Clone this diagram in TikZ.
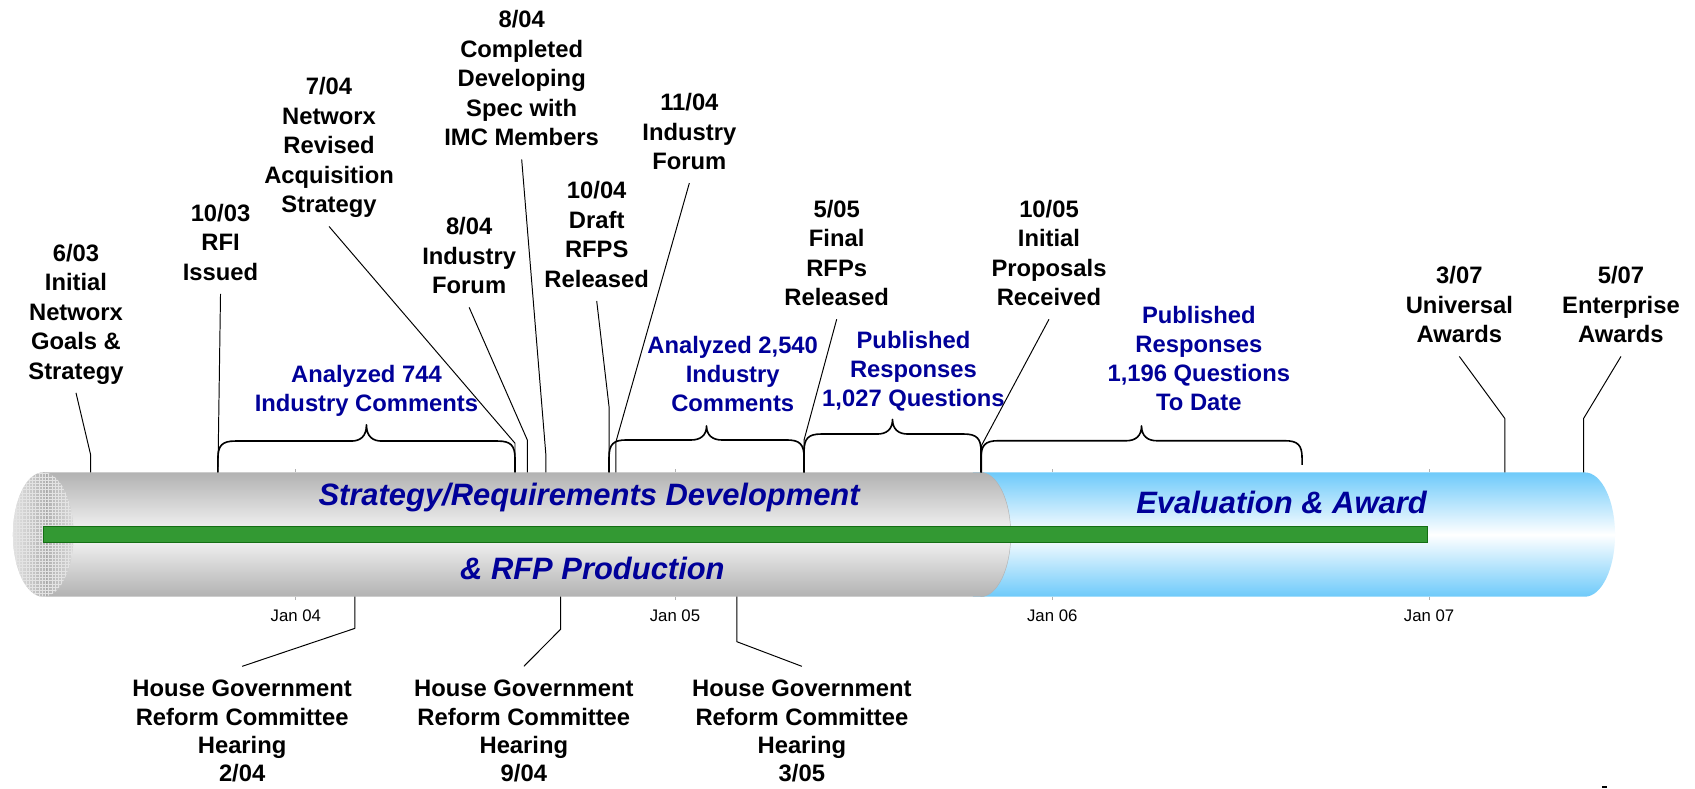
\documentclass[tikz,border=0pt]{standalone}
\usepackage{fontspec}
\setmainfont{Liberation Sans}
\usetikzlibrary{calc,patterns}
\definecolor{lblue}{RGB}{0,0,153}
\definecolor{barfill}{RGB}{51,153,51}
\definecolor{bardraw}{RGB}{20,110,20}
\definecolor{tubegrey}{RGB}{178,178,178}
\definecolor{tubelight}{RGB}{247,247,247}
\definecolor{tubeblue}{RGB}{110,202,250}
\newcommand{\mybrace}[6]{%
  \pgfmathsetmacro{\bxm}{(#1+#2)/2}%
  \draw[bracepath] (#1,#5) -- (#1,#3+16) .. controls (#1,#3+4) and (#1+4,#3) .. (#1+16,#3)
    -- (\bxm-14,#3) .. controls (\bxm-6,#3) and (\bxm,#3-4) .. (\bxm,#4)
    .. controls (\bxm,#3-4) and (\bxm+6,#3) .. (\bxm+14,#3)
    -- (#2-16,#3) .. controls (#2-4,#3) and (#2,#3+4) .. (#2,#3+16) -- (#2,#6);}
\begin{document}
\begin{tikzpicture}[x=1pt,y=-1pt,
  evt/.style={anchor=north, inner sep=0pt, align=center,
    font=\fontsize{22}{27.3}\selectfont\bfseries,
    execute at begin node={\rule{0pt}{15.8pt}},
    execute at end node={\rule[-4.6pt]{0pt}{4.6pt}}},
  bluelab/.style={evt, text=lblue, font=\fontsize{22}{26.8}\selectfont\bfseries},
  hear/.style={evt, font=\fontsize{22}{26.3}\selectfont\bfseries},
  callout/.style={draw=black, line width=0.9pt, line join=round},
  bracepath/.style={draw=black, line width=1.5pt, line join=round},
  tubetext/.style={anchor=base, inner sep=0pt, text=lblue,
    font=\fontsize{28.6}{34}\selectfont\bfseries\itshape},
  janlab/.style={anchor=base, inner sep=0pt, font=\fontsize{15.5}{18}\selectfont},
  tick/.style={draw=gray!60, line width=0.7pt}]
\useasboundingbox[fill=white] (0,0) rectangle (1568,729);

% ---- tube: blue part
\path[top color=tubeblue, bottom color=tubeblue, middle color=white]
  (900,437) -- (1466,437) .. controls (1481.5,437) and (1494,462.7) .. (1494,494.5)
  .. controls (1494,526.3) and (1481.5,552) .. (1466,552) -- (900,552) -- cycle;
% ---- tube: grey part
\path[top color=tubegrey, bottom color=tubegrey, middle color=tubelight]
  (40,437) -- (907,437) .. controls (922.5,437) and (935,462.7) .. (935,494.5)
  .. controls (935,526.3) and (922.5,552) .. (907,552) -- (40,552) -- cycle;
\draw[gray!60, line width=0.4pt] (907,437) .. controls (922.5,437) and (935,462.7) .. (935,494.5)
  .. controls (935,526.3) and (922.5,552) .. (907,552);
% ---- left end face (textured)
\begin{scope}
  \clip (40,494.5) ellipse [x radius=28, y radius=57.5];
  \path[top color=gray!45, middle color=white, bottom color=gray!45] (11,437) rectangle (69,552);
  \path[left color=white, right color=gray!75, fill opacity=0.5] (11,437) rectangle (43,552);
  \path[left color=gray!75, right color=gray!15, fill opacity=0.5] (43,437) rectangle (69,552);
  \path[pattern=grid, pattern color=gray!22] (11,437) rectangle (69,552);
\end{scope}
% ---- green bar
\path[fill=barfill, draw=bardraw, line width=0.8pt] (40,487) rectangle (1320,502);

% ---- tube texts
\node[tubetext] (t1) at (545,468) {Strategy/Requirements Development};
\node[tubetext] (t2) at (548,536.5) {\& RFP Production};
\node[tubetext] (t3) at (1185.5,475) {Evaluation \& Award};

% ---- axis ticks and labels
\foreach \x in {273.7,624.4,973.4,1322}{
  \draw[tick] (\x,434) -- (\x,437);
  \draw[tick] (\x,552) -- (\x,555);
}
\node[janlab] (j4) at (273.7,574.5) {Jan 04};
\node[janlab] (j5) at (624.4,574.5) {Jan 05};
\node[janlab] (j6) at (973.4,574.5) {Jan 06};
\node[janlab] (j7) at (1322,574.5) {Jan 07};

% ---- braces
\mybrace{201.6}{476.4}{408}{393}{437}{437}
\mybrace{563.4}{743.8}{407}{394}{437}{437}
\mybrace{743.8}{907.5}{401.5}{388}{437}{437}
\mybrace{907.5}{1204.5}{407.7}{394}{437}{430}

% ---- top event labels
\node[evt] (L603) at (70.3,225.5) {6/03\\Initial\\Networx\\Goals \&\\Strategy};
\node[evt] (L1003) at (204,188.6) {10/03\\RFI\\Issued};
\node[evt] (L704) at (304.4,71.6) {7/04\\Networx\\Revised\\Acquisition\\Strategy};
\node[evt] (L804c) at (482.6,9.7) {8/04\\Completed\\Developing\\Spec with\\IMC Members};
\node[evt] (L804f) at (434,201.1) {8/04\\Industry\\Forum};
\node[evt] (L1004) at (552,167.9) {10/04\\Draft\\RFPS\\Released};
\node[evt] (L1104) at (637.7,86.1) {11/04\\Industry\\Forum};
\node[evt] (L505) at (774,184.8) {5/05\\Final\\RFPs\\Released};
\node[evt] (L1005) at (970.4,184.8) {10/05\\Initial\\Proposals\\Received};
\node[evt] (L307) at (1350,246.5) {3/07\\Universal\\Awards};
\node[evt] (L507) at (1499.5,246.5) {5/07\\Enterprise\\Awards};

% ---- blue labels
\node[bluelab] (B744) at (339,338.1) {Analyzed 744\\Industry Comments};
\node[bluelab] (B2540) at (677.8,311.1) {Analyzed 2,540\\Industry\\Comments};
\node[bluelab] (B1027) at (845,306) {Published\\Responses\\1,027 Questions};
\node[bluelab] (B1196) at (1109,283.5) {Published\\Responses\\1,196 Questions\\To Date};

% ---- bottom labels
\node[hear] (H1) at (224,628.9) {House Government\\Reform Committee\\Hearing\\2/04};
\node[hear] (H2) at (484.6,628.9) {House Government\\Reform Committee\\Hearing\\9/04};
\node[hear] (H3) at (741.8,628.9) {House Government\\Reform Committee\\Hearing\\3/05};

% ---- callout coordinates
\coordinate (k603) at (83.9,421);   \coordinate (e603) at (83.9,437);
\coordinate (e1003) at (201.6,437);
\coordinate (k704) at (476.4,410);  \coordinate (e704) at (476.4,437);
\coordinate (k804c) at (505,421);   \coordinate (e804c) at (505,437);
\coordinate (k804f) at (487.8,407); \coordinate (e804f) at (487.8,437);
\coordinate (k1004) at (563.4,376.2); \coordinate (e1004) at (563.4,437);
\coordinate (k1104) at (569.8,408.6); \coordinate (e1104) at (569.8,437);
\coordinate (k505) at (743.8,407);  \coordinate (e505) at (743.8,437);
\coordinate (k1005) at (908,412);   \coordinate (e1005) at (908,437);
\coordinate (k307) at (1392,387);   \coordinate (e307) at (1392,437);
\coordinate (k507) at (1465,387);   \coordinate (e507) at (1465,437);
\coordinate (s1) at (328.2,552); \coordinate (m1) at (328.2,581.3);
\coordinate (s2) at (518.7,552); \coordinate (m2) at (518.7,582);
\coordinate (s3) at (681.6,552); \coordinate (m3) at (681.6,593.6);

% ---- callout lines
\draw[callout] ([yshift=-7.7pt]L603.south) -- (k603) -- (e603);
\draw[callout] ([yshift=-7.7pt]L1003.south) -- (e1003);
\draw[callout] ([yshift=-7.7pt]L704.south) -- (k704) -- (e704);
\draw[callout] ([yshift=-7.7pt]L804c.south) -- (k804c) -- (e804c);
\draw[callout] ([yshift=-7.7pt]L804f.south) -- (k804f) -- (e804f);
\draw[callout] ([yshift=-7.7pt]L1004.south) -- (k1004) -- (e1004);
\draw[callout] ([yshift=-7.7pt]L1104.south) -- (k1104) -- (e1104);
\draw[callout] ([yshift=-7.7pt]L505.south) -- (k505) -- (e505);
\draw[callout] ([yshift=-7.7pt]L1005.south) -- (k1005) -- (e1005);
\draw[callout] ([yshift=-7.7pt]L307.south) -- (k307) -- (e307);
\draw[callout] ([yshift=-7.7pt]L507.south) -- (k507) -- (e507);
\draw[callout] (s1) -- (m1) -- ([yshift=12.5pt]H1.north);
\draw[callout] (s2) -- (m2) -- ([yshift=12.5pt]H2.north);
\draw[callout] (s3) -- (m3) -- ([yshift=12.5pt]H3.north);

% ---- small mark at bottom edge
\path[fill=black] (1481.6,727) rectangle (1486.3,729);
\end{tikzpicture}
\end{document}
